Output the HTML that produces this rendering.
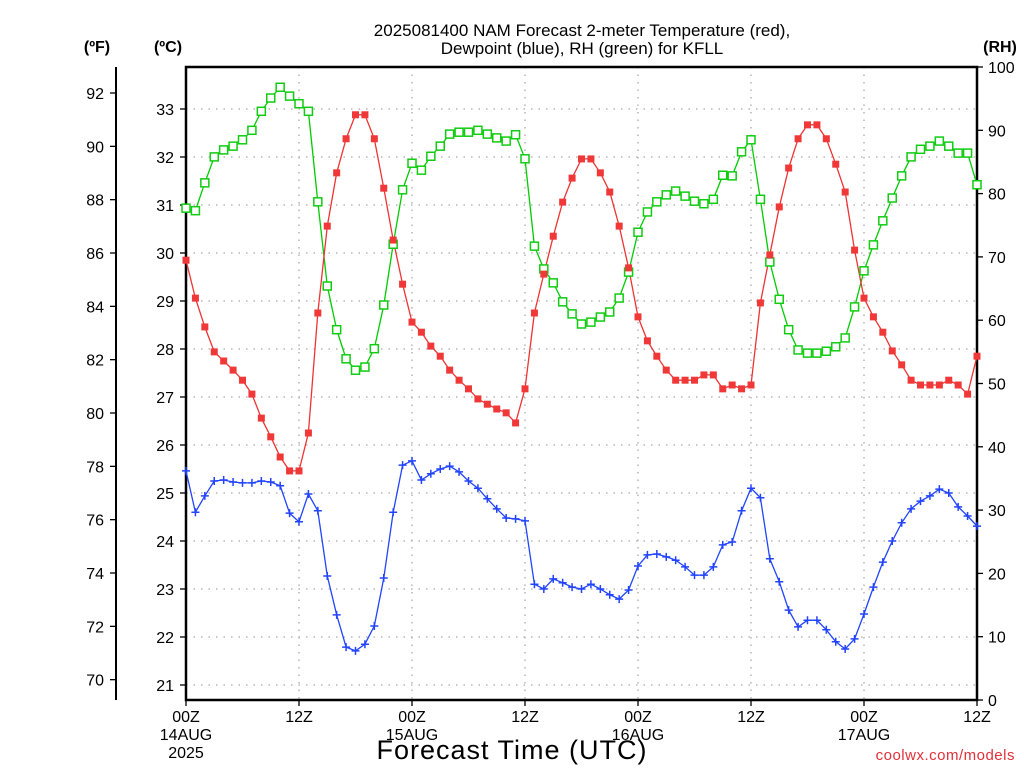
<!DOCTYPE html>
<html><head><meta charset="utf-8">
<style>
html,body{margin:0;padding:0;background:#fff;}
svg{display:block;font-family:"Liberation Sans","DejaVu Sans",sans-serif;}
</style></head>
<body>
<svg id="chart" width="1024" height="768" viewBox="0 0 1024 768" xmlns="http://www.w3.org/2000/svg">
<rect x="0" y="0" width="1024" height="768" fill="#fff"/>
<text x="582" y="36" font-size="17" text-anchor="middle">2025081400 NAM Forecast 2-meter Temperature (red),</text>
<text x="582" y="54" font-size="17" text-anchor="middle">Dewpoint (blue), RH (green) for KFLL</text>
<text x="97" y="52" font-size="16" font-weight="bold" text-anchor="middle">(ºF)</text>
<text x="168" y="52" font-size="16" font-weight="bold" text-anchor="middle">(ºC)</text>
<text x="1000" y="52" font-size="16" font-weight="bold" text-anchor="middle">(RH)</text>
<g id="grid"></g>
<g id="axes"></g>
<g id="series"></g>
<text x="512" y="759" font-size="27" text-anchor="middle" letter-spacing="1">Forecast Time (UTC)</text>
<text x="1015" y="760" font-size="15" fill="#e0303a" text-anchor="end" letter-spacing="0.5">coolwx.com/models</text>
</svg>
<script>
const tempC = [29.85,29.06,28.46,27.94,27.75,27.56,27.35,27.06,26.56,26.17,25.75,25.46,25.46,26.25,28.75,30.56,31.67,32.38,32.88,32.88,32.38,31.35,30.27,29.35,28.56,28.35,28.06,27.85,27.56,27.35,27.17,26.96,26.85,26.75,26.67,26.46,27.17,28.75,29.56,30.35,31.06,31.56,31.96,31.96,31.67,31.27,30.56,29.69,28.67,28.17,27.85,27.56,27.35,27.35,27.35,27.46,27.46,27.17,27.25,27.17,27.25,28.96,29.96,30.96,31.77,32.38,32.67,32.67,32.38,31.85,31.27,30.06,29.06,28.67,28.35,27.96,27.67,27.35,27.25,27.25,27.25,27.35,27.25,27.06,27.85];
const dewC = [25.46,24.60,24.94,25.25,25.27,25.23,25.21,25.21,25.25,25.23,25.15,24.58,24.40,24.98,24.63,23.27,22.46,21.79,21.71,21.85,22.23,23.23,24.60,25.58,25.67,25.27,25.40,25.50,25.56,25.44,25.25,25.10,24.88,24.67,24.48,24.46,24.42,23.10,23.00,23.21,23.13,23.04,23.00,23.10,23.00,22.88,22.79,22.98,23.48,23.71,23.73,23.67,23.60,23.46,23.29,23.29,23.46,23.92,23.98,24.63,25.10,24.90,23.63,23.15,22.56,22.21,22.35,22.35,22.15,21.90,21.75,21.96,22.48,23.04,23.56,24.00,24.38,24.67,24.83,24.94,25.08,25.00,24.71,24.52,24.31];
const rh = [77.7,77.3,81.7,85.8,86.9,87.5,88.5,90.0,93.0,95.1,96.8,95.4,94.2,93.0,78.7,65.4,58.5,53.9,52.1,52.6,55.5,62.4,72.0,80.6,84.8,83.7,85.9,87.5,89.4,89.7,89.7,90.0,89.4,88.8,88.3,89.3,85.5,71.7,68.1,65.9,62.9,61.0,59.4,59.7,60.5,61.3,63.5,67.6,73.9,77.1,78.7,79.8,80.4,79.6,78.8,78.4,79.1,82.9,82.8,86.6,88.5,79.1,69.2,63.3,58.5,55.3,54.8,54.8,55.1,55.8,57.2,62.1,67.8,71.9,75.7,79.3,82.8,85.8,87.0,87.5,88.3,87.5,86.4,86.4,81.4];
const cTicks = [21,22,23,24,25,26,27,28,29,30,31,32,33];
const fTicks = [70,72,74,76,78,80,82,84,86,88,90,92];
const rhTicks = [0,10,20,30,40,50,60,70,80,90,100];
const xTickHours = [0,12,24,36,48,60,72,84];
const xTickLabels = [["00Z","14AUG","2025"],["12Z"],["00Z","15AUG"],["12Z"],["00Z","16AUG"],["12Z"],["00Z","17AUG"],["12Z"]];

const NS="http://www.w3.org/2000/svg";
const L=186,R=977,T=67,B=700;
const xH=h=>L+(R-L)*h/84;
const yC=c=>109+(33-c)*48;
const yF=f=>yC((f-32)/1.8);
const yRH=v=>B-(B-T)*v/100;
function mk(tag,attrs,parent){const e=document.createElementNS(NS,tag);for(const k in attrs)e.setAttribute(k,attrs[k]);parent.appendChild(e);return e;}
const grid=document.getElementById('grid'),axes=document.getElementById('axes'),series=document.getElementById('series');

cTicks.forEach(c=>{const y=yC(c);
 let g=mk('line',{x1:L,x2:R,y1:y,y2:y,stroke:'#aaa','stroke-width':1.3,'stroke-dasharray':'1.5 6'},grid);
 
 
 let t=mk('line',{x1:L-6,x2:L,y1:y,y2:y,stroke:'#000','stroke-width':1.3},axes);
 
 
 let tx=mk('text',{x:L-12,y:y+6,'font-size':16,'text-anchor':'end'},axes);tx.textContent=c;
 
 
});
xTickHours.forEach((h,i)=>{const x=xH(h);
 if(h>0&&h<84){let g=mk('line',{x1:x,x2:x,y1:T,y2:B,stroke:'#aaa','stroke-width':1.3,'stroke-dasharray':'1.5 6'},grid);
 
 }
 let t=mk('line',{x1:x,x2:x,y1:B,y2:B+6,stroke:'#000','stroke-width':1.3},axes);
 
 
 xTickLabels[i].forEach((s,j)=>{let tx=mk('text',{x:x,y:722+j*18,'font-size':16,'text-anchor':'middle'},axes);tx.textContent=s;
 
 });
});
// F axis
let fa=mk('line',{x1:116,x2:116,y1:67,y2:700,stroke:'#000','stroke-width':2},axes);


fTicks.forEach(f=>{const y=yF(f);
 let t=mk('line',{x1:110,x2:116,y1:y,y2:y,stroke:'#000','stroke-width':1.3},axes);
 
 
 let tx=mk('text',{x:104,y:y+6,'font-size':16,'text-anchor':'end'},axes);tx.textContent=f;
 
 
});
rhTicks.forEach(v=>{const y=yRH(v);
 let t=mk('line',{x1:R,x2:R+6,y1:y,y2:y,stroke:'#000','stroke-width':1.3},axes);
 
 
 let tx=mk('text',{x:988,y:y+6,'font-size':16,'text-anchor':'start'},axes);tx.textContent=v;
 
 
});
let fr=mk('path',{d:`M${L},${B} L${L},${T} L${R},${T} L${R},${B} Z`,fill:'none',stroke:'#000','stroke-width':2.5},axes);



function drawLine(vals,yf,color,name){
 const pts=vals.map((v,i)=>xH(i).toFixed(1)+','+yf(v).toFixed(1)).join(' ');
 let p=mk('polyline',{points:pts,fill:'none',stroke:color,'stroke-width':1.3},series);
 
 
}
drawLine(rh,yRH,'#00cc00','rh');
drawLine(tempC,yC,'#ee3333','temperature');
drawLine(dewC,yC,'#2244ff','dewpoint');
rh.forEach((v,i)=>{let m=mk('rect',{x:xH(i)-4,y:yRH(v)-4,width:8,height:8,fill:'#fff',stroke:'#11cc11','stroke-width':1.5},series);
 
 });
tempC.forEach((v,i)=>{let m=mk('rect',{x:xH(i)-3.5,y:yC(v)-3.5,width:7,height:7,fill:'#f03838'},series);
 
 });
dewC.forEach((v,i)=>{const x=xH(i),y=yC(v);
 let m=mk('path',{d:`M${x-4},${y} H${x+4} M${x},${y-4} V${y+4}`,stroke:'#2244ff','stroke-width':1.5,fill:'none'},series);
 
 });
</script>
</body></html>
